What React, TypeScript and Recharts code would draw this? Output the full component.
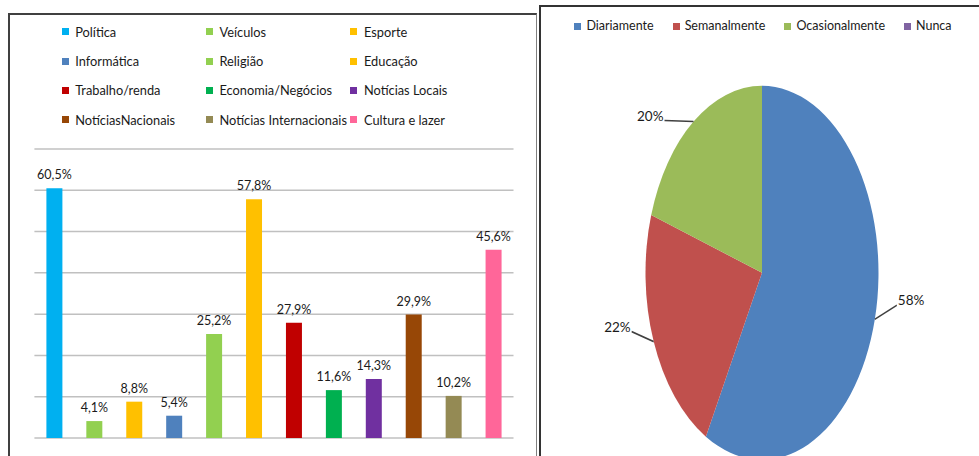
import React from 'react';
import { BarChart, Bar, XAxis, YAxis, CartesianGrid, Cell, LabelList, Legend, PieChart, Pie } from 'recharts';

const topicNames = ['Política', 'Veículos', 'Esporte', 'Informática', 'Religião', 'Educação', 'Trabalho/renda', 'Economia/Negócios', 'Notícias Locais', 'NotíciasNacionais', 'Notícias Internacionais', 'Cultura e lazer'];
const topicValues = [60.5, 4.1, 8.8, 5.4, 25.2, 57.8, 27.9, 11.6, 14.3, 29.9, 10.2, 45.6];
const topicColors = ['#00B0F0', '#92D050', '#FFC000', '#4F81BD', '#92D050', '#FFC000', '#C00000', '#00B050', '#7030A0', '#974706', '#948A54', '#FF6699'];
const yTicks = [0, 10, 20, 30, 40, 50, 60, 70];

const freqNames = ['Diariamente', 'Semanalmente', 'Ocasionalmente', 'Nunca'];
const freqValues = [58, 22, 20, 0];
const freqColors = ['#4F81BD', '#C0504D', '#9BBB59', '#8064A2'];

const F = "Lato, 'Liberation Sans', sans-serif";
const K = 1.605;

const barData = topicNames.map((name, i) => ({ name, value: topicValues[i] }));
const pieData = freqNames.map((name, i) => ({ name, value: freqValues[i] }));

const fmt = (v: any) => `${Number(v).toFixed(1).replace('.', ',')}%`;

const BarLegend = () => (
  <div style={{ position: 'absolute', left: 51.7, top: 2.4, display: 'grid', gridTemplateColumns: '144.3px 144.5px 150px', gridAutoRows: '29.2px', fontFamily: F, fontSize: 12.8, color: '#1a1a1a' }}>
    {topicNames.map((n, i) => (
      <div key={n} style={{ display: 'flex', alignItems: 'center', whiteSpace: 'nowrap' }}>
        <span style={{ display: 'inline-block', width: 7, height: 7, background: topicColors[i], marginRight: 6.5, flex: 'none' }} />
        {n}
      </div>
    ))}
  </div>
);

const PieLegend = () => (
  <div style={{ position: 'absolute', left: 0, top: 9, width: 438, paddingLeft: 6, boxSizing: 'border-box', display: 'flex', justifyContent: 'center', gap: 19, fontFamily: F, fontSize: 12.5, color: '#1a1a1a', lineHeight: '20px' }}>
    {freqNames.map((n, i) => (
      <div key={n} style={{ display: 'flex', alignItems: 'center', whiteSpace: 'nowrap' }}>
        <span style={{ display: 'inline-block', width: 7, height: 7, background: freqColors[i], marginRight: 5, flex: 'none' }} />
        {n}
      </div>
    ))}
  </div>
);

const renderPieLabel = (props: any) => {
  const { cx, cy, midAngle, outerRadius, value } = props;
  if (!value) return null;
  const rad = Math.PI / 180;
  const ex = cx + outerRadius * Math.cos(-midAngle * rad);
  const ey = cy + outerRadius * Math.sin(-midAngle * rad);
  const right = ex > cx;
  const upper = ey < cy;
  const dx = right ? 22 : upper ? -29 : -22;
  const dy = right ? -14 : upper ? -1 : -10;
  const lx = ex + dx;
  const ly = ey + dy / K;
  return (
    <g>
      <path d={`M${ex},${ey}L${lx},${ly}`} stroke="#404040" strokeWidth={1} fill="none" vectorEffect="non-scaling-stroke" />
      <text transform={`translate(${right ? lx + 1 : lx - 1},${ly}) scale(1,${1 / K})`} y={0} textAnchor={right ? 'start' : 'end'} fontSize={13.5} fontFamily={F} fill="#1a1a1a">
        {`${value}%`}
      </text>
    </g>
  );
};

export default function App() {
  return (
    <div style={{ position: 'absolute', left: 0, top: 0, width: 979, height: 456, overflow: 'hidden', background: '#fff' }}>
      <style>{`.pie-wrap svg.recharts-surface { transform: scaleY(${K}); transform-origin: 0 0; }`}</style>
      <div style={{ position: 'absolute', left: 8, top: 13, width: 526, height: 460, borderTop: '2px solid #404040', borderLeft: '2px solid #404040', borderRight: '1px solid #808080', background: '#fff' }}>
        <BarChart width={526} height={441} data={barData} margin={{ top: 134, right: 22.5, bottom: 18, left: 24.4 }}>
          <CartesianGrid vertical={false} stroke="#c0c0c0" strokeWidth={1.5} />
          <XAxis dataKey="name" hide />
          <YAxis hide domain={[0, 70]} ticks={yTicks} />
          <Legend layout="horizontal" verticalAlign="middle" align="center" wrapperStyle={{ top: 0, left: 0, width: 526, height: 130 }} content={() => <BarLegend />} />
          <Bar dataKey="value" barSize={16} isAnimationActive={false}>
            {barData.map((d, i) => (
              <Cell key={d.name} fill={topicColors[i]} />
            ))}
            <LabelList dataKey="value" position="top" offset={9} formatter={fmt} fill="#1a1a1a" fontSize={12.5} fontFamily={F} />
          </Bar>
        </BarChart>
      </div>
      <div className="pie-wrap" style={{ position: 'absolute', left: 539, top: 5, width: 440, height: 460, borderTop: '2px solid #333', borderLeft: '2px solid #333', background: '#fff' }}>
        <PieChart width={438} height={290} margin={{ top: 0, right: 0, bottom: 0, left: 0 }}>
          <Legend layout="horizontal" verticalAlign="middle" align="center" wrapperStyle={{ top: 0, left: 0, width: 438, height: 40 }} content={() => <PieLegend />} />
          <Pie data={pieData} dataKey="value" nameKey="name" cx={221} cy={165.6} outerRadius={116.5} startAngle={90} endAngle={-270} stroke="none" label={renderPieLabel} labelLine={false} isAnimationActive={false}>
            {pieData.map((d, i) => (
              <Cell key={d.name} fill={freqColors[i]} />
            ))}
          </Pie>
        </PieChart>
      </div>
    </div>
  );
}
